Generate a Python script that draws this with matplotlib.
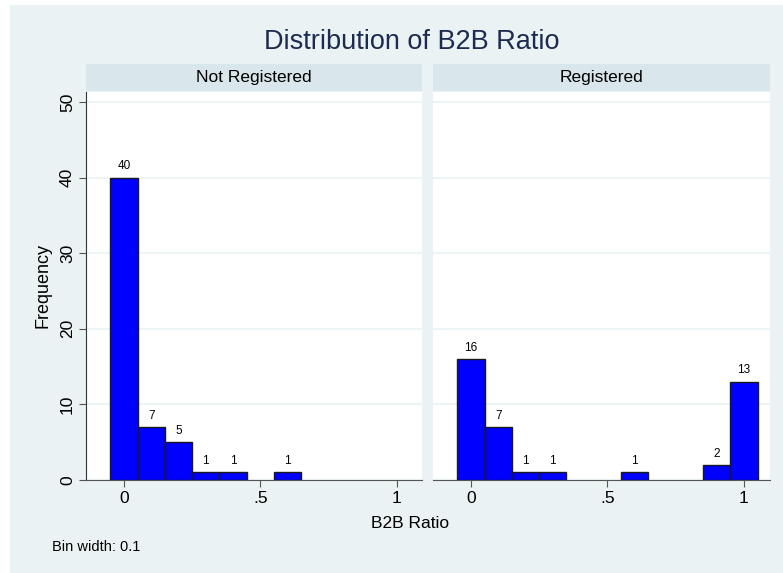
import matplotlib.pyplot as plt
import numpy as np

plt.rcParams["font.family"] = ["Liberation Sans", "DejaVu Sans"]

# bin centres (width 0.1) and counts per panel
bin_centers = [0.0, 0.1, 0.2, 0.3, 0.4, 0.5, 0.6, 0.7, 0.8, 0.9, 1.0]
not_registered = [40, 7, 5, 1, 1, 0, 1, 0, 0, 0, 0]
registered = [16, 7, 1, 1, 0, 0, 1, 0, 0, 2, 13]
panel_titles = ["Not Registered", "Registered"]
x_ticks = [0, 0.5, 1]
x_ticklabels = ["0", ".5", "1"]
y_ticks = [0, 10, 20, 30, 40, 50]

bg = "#eaf2f3"
strip_col = "#d9e6ec"
bar_col = "#0000ff"

W, H = 783, 573
fig = plt.figure(figsize=(W / 100, H / 100), dpi=100)
fig.patch.set_facecolor("white")
fig.patches.append(plt.Rectangle((10 / W, -0.01), 1, 1.01 - 5 / H, transform=fig.transFigure,
                                 facecolor=bg, edgecolor="none", zorder=-10))


def fx(px):
    return px / W


def fy(py):
    return 1 - py / H


panels = [(86, 422), (433, 770)]
top, bottom = 92, 480
for i, (x0, x1) in enumerate(panels):
    ax = fig.add_axes([fx(x0), fy(bottom), fx(x1 - x0), fy(top) - fy(bottom)])
    counts = [not_registered, registered][i]
    xs = [c for c, v in zip(bin_centers, counts) if v > 0]
    vs = [v for v in counts if v > 0]
    ax.bar(xs, vs, width=0.1, color=bar_col, edgecolor="#1a1a1a",
           linewidth=1.0, zorder=3)
    for c, v in zip(xs, vs):
        ax.text(c, v + 0.7, str(v), ha="center", va="bottom", fontsize=8.5)
    ax.set_xlim(-0.139, -0.139 + (x1 - x0) / 273)
    ax.set_ylim(0, (bottom - 2 - top) / 7.52)
    ax.set_yticks(y_ticks)
    ax.grid(axis="y", color=bg, linewidth=1.2, zorder=0)
    ax.set_xticks(x_ticks)
    ax.set_xticklabels(x_ticklabels, fontsize=12.5)
    ax.tick_params(axis="x", length=5, width=0.8, color="#555555", pad=3)
    for s in ["top", "right"]:
        ax.spines[s].set_visible(False)
    ax.spines["bottom"].set_color("#555555")
    if i == 0:
        ax.set_yticklabels([str(t) for t in y_ticks], rotation=90, va="center", fontsize=12.5)
        ax.tick_params(axis="y", length=5, width=0.8, color="#555555", pad=3)
        ax.spines["left"].set_color("#333333")
        ax.set_ylabel("Frequency", fontsize=13, labelpad=6)
    else:
        ax.spines["left"].set_visible(False)
        ax.tick_params(axis="y", length=0, labelleft=False)

    # strip header
    sax = fig.add_axes([fx(x0), fy(91), fx(x1 - x0), fy(64) - fy(91)])
    sax.set_facecolor(strip_col)
    sax.set_xticks([])
    sax.set_yticks([])
    for s in sax.spines.values():
        s.set_visible(False)
    sax.text(0.5, 0.5, panel_titles[i], ha="center", va="center", fontsize=12.5,
             transform=sax.transAxes)

fig.text(fx(412), fy(42), "Distribution of B2B Ratio", ha="center", va="center",
         fontsize=19.5, color="#1c2b4f")
fig.text(fx(410), fy(523), "B2B Ratio", ha="center", va="center", fontsize=12.5)
fig.text(fx(52), fy(547), "Bin width: 0.1", ha="left", va="center", fontsize=10.5)

fig.savefig("out.png", dpi=100)
